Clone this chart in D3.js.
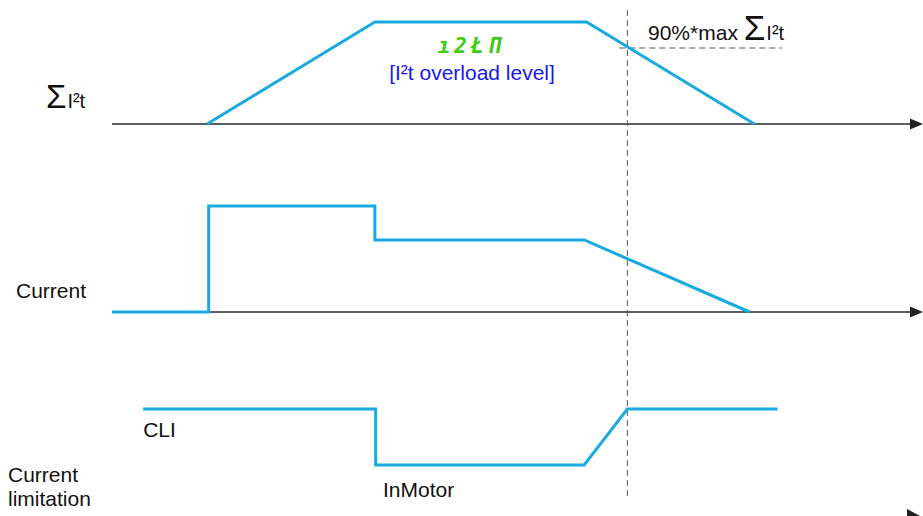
<!DOCTYPE html>
<html><head><meta charset="utf-8">
<script src="https://cdn.jsdelivr.net/npm/d3@7"></script>
<style>
html,body{margin:0;padding:0;background:#fff;overflow:hidden;}
svg{display:block;font-family:"Liberation Sans",Arial,sans-serif;}
</style></head>
<body><svg id="c" width="923" height="516"></svg>
<script>
// ---- data (time in arbitrary units 0..100, values normalised 0..1) ----
const i2tTimes  = [11.9, 32.9, 59.4, 80.4];
const i2tValues = [0, 1, 1, 0];
const i2tThreshold = 0.745;          // 90%*max ΣI²t
const curTimes  = [0, 12.1, 12.1, 32.9, 32.9, 59.1, 79.8];
const curValues = [0, 0, 1, 1, 0.68, 0.68, 0];
const limTimes  = [3.9, 33.0, 33.0, 59.1, 64.5, 83.3];
const limValues = [1, 1, 0.484, 0.484, 1, 1];
const eventTime = 64.5;
const rowLabels = ["ΣI²t", "Current", "Current limitation"];

const W = 923, H = 516;
const svg = d3.select("#c");
const blue = "#19aae2", axisCol = "#2a2a2a", dashCol = "#555";

const x = d3.scaleLinear().domain([0, 100]).range([112, 911]);
const yTop = d3.scaleLinear().domain([0, 1]).range([124, 22]);
const yMid = d3.scaleLinear().domain([0, 1]).range([312, 206]);
const yBot = d3.scaleLinear().domain([0, 1]).range([517.5, 409]);

// time axes with arrowheads
function timeAxis(y0, hh, bx, showLine) {
  if (showLine) {
    svg.append("line").attr("x1", x(0)).attr("x2", x(100))
      .attr("y1", y0).attr("y2", y0)
      .attr("stroke", axisCol).attr("stroke-width", 1.3);
  }
  svg.append("path")
    .attr("d", `M${bx},${y0-hh} L${W},${y0} L${bx},${y0+hh} Z`)
    .attr("fill", "#222");
}
timeAxis(yTop(0), 5.5, 910, true);
timeAxis(yMid(0), 5.5, 910, true);
timeAxis(yBot(0), 8.5, 907, false);   // bottom axis line lies just below the frame

// dashed event line & threshold
svg.append("line").attr("x1", x(eventTime)).attr("x2", x(eventTime))
  .attr("y1", 10).attr("y2", 500)
  .attr("stroke", dashCol).attr("stroke-width", 1).attr("stroke-dasharray", "6,4");
svg.append("line").attr("x1", x(eventTime) - 8).attr("x2", 782)
  .attr("y1", yTop(i2tThreshold)).attr("y2", yTop(i2tThreshold))
  .attr("stroke", dashCol).attr("stroke-width", 1).attr("stroke-dasharray", "6,4");

function series(times, vals, y) {
  const line = d3.line().x(d => x(d[0])).y(d => y(d[1]));
  svg.append("path").datum(d3.zip(times, vals)).attr("d", line)
    .attr("fill", "none").attr("stroke", blue).attr("stroke-width", 3)
    .attr("stroke-linejoin", "miter");
}
series(i2tTimes, i2tValues, yTop);
series(curTimes, curValues, yMid);
series(limTimes, limValues, yBot);

// labels
const sig = svg.append("text").attr("x", 46).attr("y", 108).attr("fill", "#111");
sig.append("tspan").attr("font-size", 33).text("Σ");
sig.append("tspan").attr("font-size", 20).attr("dx", 1).text("I²t");

svg.append("text").attr("x", 16).attr("y", 298).attr("font-size", 21).attr("fill", "#111").text(rowLabels[1]);
const cl = svg.append("text").attr("x", 8).attr("font-size", 21).attr("fill", "#111");
cl.append("tspan").attr("x", 8).attr("y", 482).text("Current");
cl.append("tspan").attr("x", 8).attr("y", 506).text("limitation");

svg.append("text").attr("x", x(limTimes[0])).attr("y", 437).attr("font-size", 21).attr("fill", "#111").text("CLI");
svg.append("text").attr("x", 383).attr("y", 497).attr("font-size", 21).attr("fill", "#111").text("InMotor");

const th = svg.append("text").attr("x", 648).attr("y", 40).attr("fill", "#111");
th.append("tspan").attr("font-size", 21).text("90%*max ");
th.append("tspan").attr("font-size", 35).text("Σ");
th.append("tspan").attr("font-size", 20).attr("dx", 1).text("I²t");

svg.append("text").attr("x", 471).attr("y", 53).attr("text-anchor", "middle")
  .attr("font-size", 21).attr("font-style", "italic").attr("font-weight", "bold")
  .attr("letter-spacing", 4).attr("fill", "#3ecb10")
  .attr("font-family", "'DejaVu Sans Mono', monospace").text("ı2ŁΠ");
svg.append("text").attr("x", 472).attr("y", 80).attr("text-anchor", "middle")
  .attr("font-size", 21).attr("fill", "#1818f0").text("[I²t overload level]");
</script></body></html>
